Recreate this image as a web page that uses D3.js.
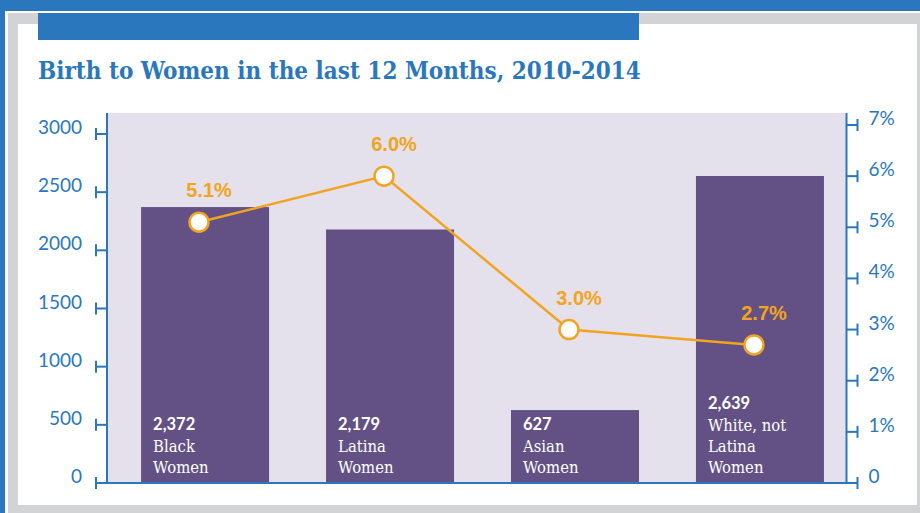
<!DOCTYPE html>
<html>
<head>
<meta charset="utf-8">
<script src="https://cdn.jsdelivr.net/npm/d3@7/dist/d3.min.js"></script>
<style>
  html, body { margin: 0; padding: 0; background: #ffffff; }
  svg { display: block; }
</style>
</head>
<body>
<svg id="chart" width="920" height="513"></svg>
<script>
// Births in the last 12 months by group, with share of women giving birth
const categories = ["Black", "Latina", "Asian", "White"];
const groupLines = [["Black", "Women"], ["Latina", "Women"], ["Asian", "Women"], ["White, not", "Latina", "Women"]];
const births = [2372, 2179, 627, 2639];
const birthLabels = ["2,372", "2,179", "627", "2,639"];
const birthRate = [5.1, 6.0, 3.0, 2.7];
const rateLabels = ["5.1%", "6.0%", "3.0%", "2.7%"];
const leftTicks = [0, 500, 1000, 1500, 2000, 2500, 3000];
const rightTicks = [0, 1, 2, 3, 4, 5, 6, 7];
const titleText = "Birth to Women in the last 12 Months, 2010-2014";

const BLUE = "#2a77bd", GREY = "#d2d3d5", LAV = "#e4e1ec", PURPLE = "#635185", ORANGE = "#f2a420";

const svg = d3.select("#chart");

// frame
svg.append("rect").attr("x", 0).attr("y", 0).attr("width", 920).attr("height", 513).attr("fill", "#ffffff");
svg.append("rect").attr("x", 0).attr("y", 0).attr("width", 920).attr("height", 11).attr("fill", BLUE);
svg.append("rect").attr("x", 0).attr("y", 0).attr("width", 5).attr("height", 513).attr("fill", BLUE);
svg.append("rect").attr("x", 8).attr("y", 13).attr("width", 912).attr("height", 11).attr("fill", GREY);
svg.append("rect").attr("x", 8).attr("y", 13).attr("width", 10).attr("height", 500).attr("fill", GREY);
svg.append("rect").attr("x", 917).attr("y", 13).attr("width", 3).attr("height", 500).attr("fill", GREY);
svg.append("rect").attr("x", 8).attr("y", 505).attr("width", 912).attr("height", 8).attr("fill", GREY);
svg.append("rect").attr("x", 38).attr("y", 13).attr("width", 601).attr("height", 27).attr("fill", BLUE);

// title, sized to span the header bar
const title = svg.append("text")
  .attr("x", 38).attr("y", 79)
  .attr("fill", BLUE)
  .attr("font-family", "'DejaVu Serif Condensed', 'DejaVu Serif', serif")
  .attr("font-weight", "bold")
  .attr("font-size", 24)
  .text(titleText);
const tw = title.node().getComputedTextLength();
title.attr("font-size", 24 * 603 / tw);

// plot geometry
const plot = { left: 108, right: 846, top: 113, bottom: 483 };

const x = d3.scaleBand().domain(categories)
  .range([plot.left, plot.right])
  .paddingInner(0.308).paddingOuter(0.149).align(0.6);
const xLine = d3.scalePoint().domain(categories).range([199, 754]);
const yLeft = d3.scaleLinear().domain([0, 3000]).range([plot.bottom, 134]);
const yRight = d3.scaleLinear().domain([0, 7]).range([plot.bottom, 125]);

svg.append("rect")
  .attr("x", plot.left).attr("y", plot.top)
  .attr("width", plot.right - plot.left).attr("height", plot.bottom - plot.top)
  .attr("fill", LAV);

// bars
svg.append("g").selectAll("rect").data(categories).join("rect")
  .attr("x", d => x(d))
  .attr("y", (d, i) => yLeft(births[i]))
  .attr("width", x.bandwidth())
  .attr("height", (d, i) => plot.bottom - yLeft(births[i]))
  .attr("fill", PURPLE);

// bar labels, stacked upward from the baseline
const lineH = 21;
const lastBase = 473;
categories.forEach((c, i) => {
  const g = svg.append("g");
  const lines = groupLines[i];
  const lx = x(c) + 12;
  lines.forEach((t, j) => {
    g.append("text")
      .attr("x", lx)
      .attr("y", lastBase - (lines.length - 1 - j) * lineH)
      .attr("fill", "#ffffff")
      .attr("font-family", "'DejaVu Serif Condensed', 'DejaVu Serif', serif")
      .attr("font-size", 16.5)
      .text(t);
  });
  g.append("text")
    .attr("x", lx)
    .attr("y", lastBase - lines.length * lineH - 1)
    .attr("fill", "#ffffff")
    .attr("font-family", "Lato, sans-serif")
    .attr("font-weight", "bold")
    .attr("font-size", 16.5)
    .text(birthLabels[i]);
});

// axes with capped tick marks
function drawAxis(scale, ticks, axisX, dir, fmt) {
  const g = svg.append("g");
  g.append("line")
    .attr("x1", axisX).attr("x2", axisX)
    .attr("y1", plot.top).attr("y2", plot.bottom)
    .attr("stroke", BLUE).attr("stroke-width", 2);
  ticks.forEach(t => {
    const ty = scale(t);
    const capX = axisX + dir * 11;
    g.append("line").attr("x1", axisX).attr("x2", capX).attr("y1", ty).attr("y2", ty)
      .attr("stroke", BLUE).attr("stroke-width", 2);
    g.append("line").attr("x1", capX).attr("x2", capX).attr("y1", ty - 6).attr("y2", ty + 6)
      .attr("stroke", BLUE).attr("stroke-width", 2);
    g.append("text")
      .attr("x", dir < 0 ? axisX - 25 : axisX + 22)
      .attr("y", ty)
      .attr("text-anchor", dir < 0 ? "end" : "start")
      .attr("fill", BLUE)
      .attr("font-family", "Lato, sans-serif")
      .attr("font-size", 19)
      .text(fmt(t));
  });
}
drawAxis(yLeft, leftTicks, 107, -1, d => String(d));
drawAxis(yRight, rightTicks, 846.5, 1, d => d === 0 ? "0" : d + "%");

svg.append("line")
  .attr("x1", 106).attr("x2", 847)
  .attr("y1", plot.bottom).attr("y2", plot.bottom)
  .attr("stroke", BLUE).attr("stroke-width", 2);

// rate line
const line = d3.line()
  .x((d, i) => xLine(categories[i]))
  .y(d => yRight(d));
svg.append("path").datum(birthRate)
  .attr("d", line)
  .attr("fill", "none")
  .attr("stroke", ORANGE)
  .attr("stroke-width", 2.5);

svg.append("g").selectAll("circle").data(birthRate).join("circle")
  .attr("cx", (d, i) => xLine(categories[i]))
  .attr("cy", d => yRight(d))
  .attr("r", 9.5)
  .attr("fill", "#ffffff")
  .attr("stroke", ORANGE)
  .attr("stroke-width", 2.5);

svg.append("g").selectAll("text").data(birthRate).join("text")
  .attr("x", (d, i) => xLine(categories[i]) + 10)
  .attr("y", d => yRight(d) - 25)
  .attr("text-anchor", "middle")
  .attr("fill", ORANGE)
  .attr("font-family", "'Liberation Sans', Arial, sans-serif")
  .attr("font-weight", "bold")
  .attr("font-size", 20)
  .text((d, i) => rateLabels[i]);
</script>
</body>
</html>
